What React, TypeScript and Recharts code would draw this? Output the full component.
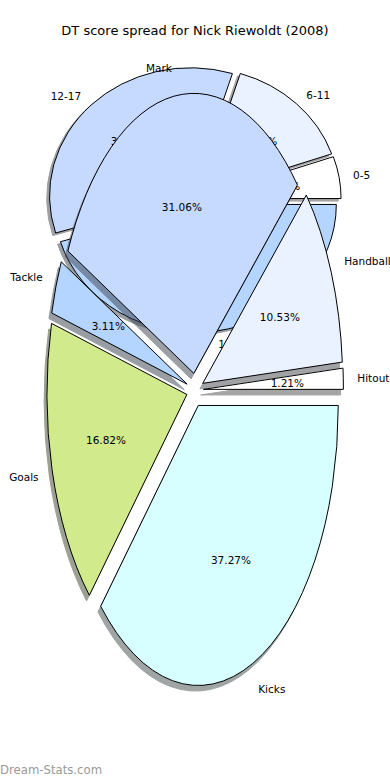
import React from "react";
import { PieChart, Pie } from "recharts";

// back pie: score ranges
const tiers = ["0-5", "6-11", "12-17", "18-23"];
const tierShare = [5.3, 14.9, 34.5, 45.3];

// front pie: stat breakdown (%)
const stats = ["Hitout", "Handball", "Mark", "Tackle", "Goals", "Kicks"];
const statShare = [1.21, 10.53, 31.06, 3.11, 16.82, 37.27];

const palette = ["#ffffff", "#eaf1ff", "#c6d9ff", "#b4d5ff", "#d0ea8c", "#d8ffff"];

const FONT = "DejaVu Sans, Verdana, sans-serif";
const RAD = Math.PI / 180;

type Geo = { cx: number; cy: number; rx: number; ry: number; explode: number; fs: number };

const backGeo: Geo = { cx: 194.5, cy: 199.4, rx: 141, ry: 128, explode: 0.04, fs: 10.5 };
const frontGeo: Geo = { cx: 195, cy: 390, rx: 140, ry: 280, explode: 0.06, fs: 10.5 };

const backRows = tiers.map((name, i) => ({ name, value: tierShare[i] }));
const frontRows = stats.map((name, i) => ({ name, value: statShare[i] }));

function shade(hex: string) {
  const n = parseInt(hex.slice(1), 16);
  const r = Math.round(((n >> 16) & 255) * 0.3);
  const g = Math.round(((n >> 8) & 255) * 0.3);
  const b = Math.round((n & 255) * 0.3);
  return `rgb(${r},${g},${b})`;
}

function wedgePath(cx: number, cy: number, rx: number, ry: number, a0: number, a1: number) {
  const x0 = cx + rx * Math.cos(a0 * RAD), y0 = cy - ry * Math.sin(a0 * RAD);
  const x1 = cx + rx * Math.cos(a1 * RAD), y1 = cy - ry * Math.sin(a1 * RAD);
  const large = a1 - a0 > 180 ? 1 : 0;
  return `M${cx},${cy} L${x0},${y0} A${rx},${ry} 0 ${large} 0 ${x1},${y1} Z`;
}

// the pie's own sectors stay invisible; each label call draws the elliptical, exploded wedge
const layer = (geo: Geo, mode: "shadow" | "wedge") => (p: any) => {
  const rx = p.outerRadius;
  const ry = rx * (geo.ry / geo.rx);
  const a0 = p.startAngle, a1 = p.endAngle;
  const mid = (a0 + a1) / 2;
  const c = Math.cos(mid * RAD), s = Math.sin(mid * RAD);
  const ox = p.cx + geo.explode * rx * c;
  const oy = p.cy - geo.explode * ry * s;
  const color = palette[p.index % palette.length];
  if (mode === "shadow") {
    return (
      <path
        d={wedgePath(ox - 0.02 * rx, oy + 0.02 * ry, rx, ry, a0, a1)}
        fill={shade(color)}
        stroke={shade(color)}
        opacity={0.5}
      />
    );
  }
  const pct = (p.percent * 100).toFixed(2) + "%";
  return (
    <g>
      <path d={wedgePath(ox, oy, rx, ry, a0, a1)} fill={color} stroke="#000" strokeWidth={1} />
      <text x={ox + 0.6 * rx * c} y={oy - 0.6 * ry * s} textAnchor="middle" dominantBaseline="central"
        fontFamily={FONT} fontSize={geo.fs} fill="#000">{pct}</text>
      <text x={ox + 1.1 * rx * c} y={oy - 1.1 * ry * s} textAnchor={c > 0 ? "start" : "end"}
        dominantBaseline="central" fontFamily={FONT} fontSize={geo.fs} fill="#000">{p.name}</text>
    </g>
  );
};

function pieLayer(rows: any[], geo: Geo, mode: "shadow" | "wedge", key: string) {
  return (
    <Pie
      key={key}
      data={rows}
      dataKey="value"
      nameKey="name"
      cx={geo.cx}
      cy={geo.cy}
      outerRadius={geo.rx}
      startAngle={0}
      endAngle={360}
      fill="none"
      stroke="none"
      labelLine={false}
      label={layer(geo, mode)}
      isAnimationActive={false}
    />
  );
}

export default function App() {
  return (
    <div style={{ position: "absolute", left: 0, top: 0, width: 390, height: 780, background: "#fff" }}>
      <PieChart width={390} height={780} margin={{ top: 0, right: 0, bottom: 0, left: 0 }}>
        {pieLayer(backRows, backGeo, "shadow", "bs")}
        {pieLayer(backRows, backGeo, "wedge", "bw")}
        {pieLayer(frontRows, frontGeo, "shadow", "fs")}
        {pieLayer(frontRows, frontGeo, "wedge", "fw")}
      </PieChart>
      <div style={{ position: "absolute", left: 195, top: 30, transform: "translate(-50%,-50%)", whiteSpace: "nowrap",
        fontFamily: FONT, fontSize: 13, color: "#000" }}>
        DT score spread for Nick Riewoldt (2008)
      </div>
      <div style={{ position: "absolute", left: 0, top: 770, transform: "translateY(-50%)", whiteSpace: "nowrap",
        fontFamily: FONT, fontSize: 11.7, color: "#9a9a9a" }}>
        Dream-Stats.com
      </div>
    </div>
  );
}
